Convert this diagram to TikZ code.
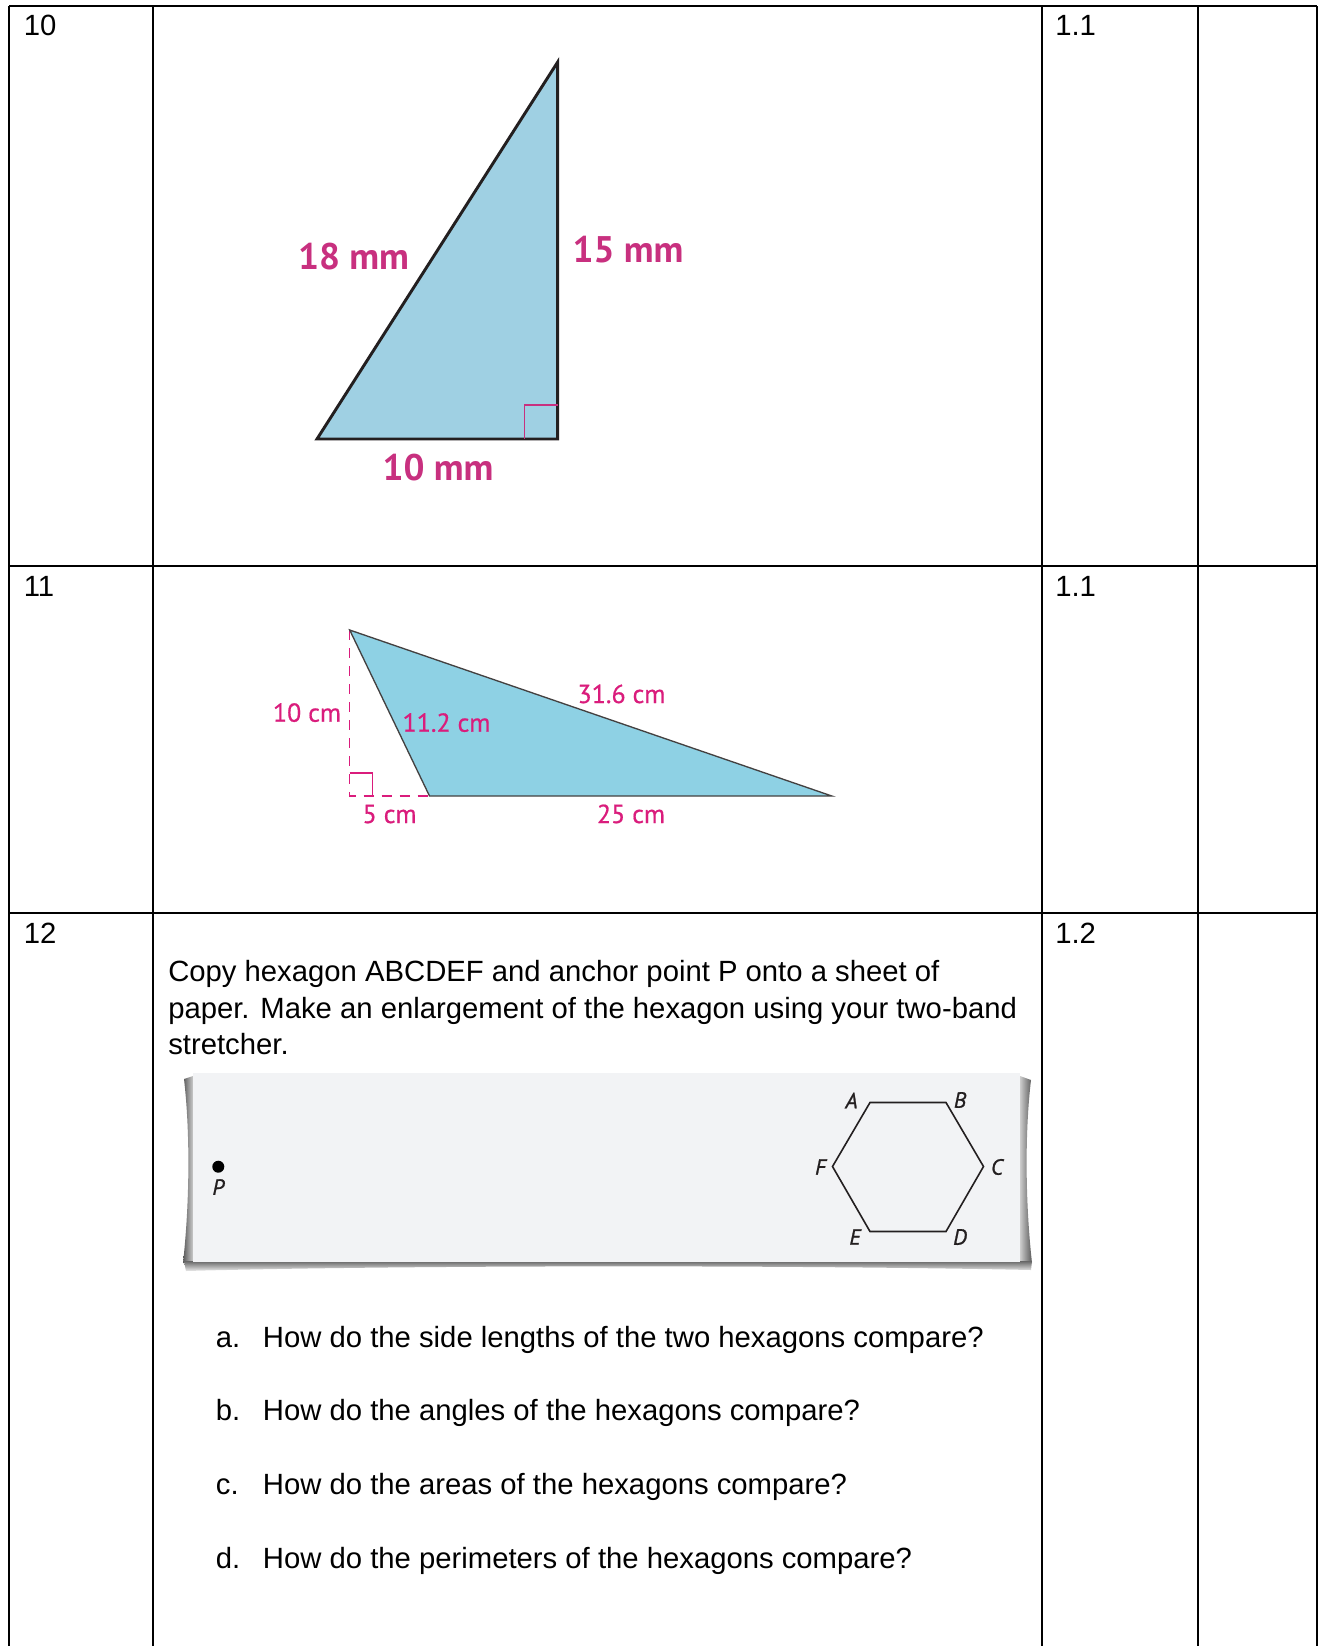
\documentclass[tikz,border=0pt]{standalone}
\usepackage{fontspec}
\setmainfont{Liberation Sans}
\newfontfamily\figfont{PT Sans}
\newfontfamily\figfontm{PT Sans}[FakeBold=0.6]
\newfontfamily\figfonti{PT Sans Italic}[FakeBold=1.0]
\definecolor{trione}{HTML}{9FD0E3}
\definecolor{tritwo}{HTML}{8ED1E4}
\definecolor{magA}{HTML}{C8307F}
\definecolor{magB}{HTML}{DA1C7C}
\definecolor{paper}{HTML}{F2F3F5}
\definecolor{ink}{HTML}{231F20}
\begin{document}
\begin{tikzpicture}[x=0.75pt,y=-0.75pt,
  rule/.style={line width=2.1pt,black},
  body/.style={anchor=base west,inner sep=0pt,font=\fontsize{21.95pt}{26pt}\selectfont},
  biglab/.style={anchor=base,inner sep=0pt,text=magA,font=\figfont\bfseries\fontsize{27.75pt}{30pt}\selectfont},
  smalllab/.style={anchor=base,inner sep=0pt,text=magB,font=\figfontm\fontsize{19.5pt}{22pt}\selectfont},
  vlab/.style={anchor=center,inner sep=0pt,text=ink,font=\figfonti\fontsize{16.5pt}{18pt}\selectfont}]
\useasboundingbox[fill=white] (0,0) rectangle (1319,1646);

% ---------- table rules ----------
\draw[rule] (9,6) -- (1317,6);
\draw[rule] (9,566) -- (1317,566);
\draw[rule] (9,913) -- (1317,913);
\draw[rule] (9,6) -- (9,1646);
\draw[rule] (153,6) -- (153,1646);
\draw[rule] (1042,6) -- (1042,1646);
\draw[rule] (1198,6) -- (1198,1646);
\draw[rule] (1317,6) -- (1317,1646);

% ---------- row numbers and codes ----------
\node[body] (r10) at (23.5,35) {10};
\node[body] (r11) at (23.5,596) {11};
\node[body] (r12) at (23.5,943) {12};
\node[body] (c10) at (1055,35) {1.1};
\node[body] (c11) at (1055,596) {1.1};
\node[body] (c12) at (1055,943) {1.2};

% ---------- triangle 1 ----------
\filldraw[fill=trione,draw=ink,line width=2.2pt,line join=miter]
  (557.7,62) -- (317,439) -- (557.7,439) -- cycle;
\draw[magA,line width=1pt] (524.4,439) -- (524.4,405) -- (557.7,405);
\node[biglab] (l18) at (353.5,269) {18 mm};
\node[biglab] (l15) at (628,262) {15 mm};
\node[biglab] (l10) at (438,480) {10 mm};

% ---------- triangle 2 ----------
\draw[magB,line width=1pt,dash pattern=on 7.5pt off 6pt] (349.7,630) -- (349.7,796) -- (429.5,796);
\draw[magB,line width=1pt] (349.7,773) -- (372.5,773) -- (372.5,796);
\filldraw[fill=tritwo,draw=ink!85,line width=1pt,line join=miter]
  (349.7,630) -- (429.5,796) -- (831.8,796) -- cycle;
\node[smalllab] (t10) at (307,721.7) {10 cm};
\node[smalllab] (t112) at (446.5,731.7) {11.2 cm};
\node[smalllab] (t316) at (621.5,703) {31.6 cm};
\node[smalllab] (t5) at (389.6,823) {5 cm};
\node[smalllab] (t25) at (631,823) {25 cm};

% ---------- row 12 text ----------
\node[body] (p1) at (168,981.5) {Copy hexagon ABCDEF and anchor point P onto a sheet of};
\node[body] (p2) at (168,1018.2) {paper. Make an enlargement of the hexagon using your two-band};
\node[body] (p3) at (168,1054.9) {stretcher.};

% ---------- paper card ----------
\path[left color=black!65,right color=black!20] (193,1076) -- (184,1079) .. controls (190,1130) and (190,1200) .. (183,1263) -- (193,1264) -- cycle;
\path[left color=black!20,right color=black!65] (1020,1076) -- (1031,1080) .. controls (1025,1130) and (1025,1200) .. (1032,1263) -- (1020,1264) -- cycle;
\path[top color=black!60,bottom color=black!8] (184,1261) -- (1032,1261) -- (1031,1270) .. controls (800,1265) and (400,1265) .. (186,1271) -- cycle;
\fill[paper] (193,1073) rectangle (1020,1262);

\node[circle,fill=black,inner sep=0pt,minimum size=9pt] (P) at (218.3,1166.7) {};
\node[vlab] (Plab) at (218.3,1187) {P};

\coordinate (hA) at (870,1102.5);
\coordinate (hB) at (946,1102.5);
\coordinate (hC) at (983.5,1166.5);
\coordinate (hD) at (946,1231.5);
\coordinate (hE) at (870,1231.5);
\coordinate (hF) at (832.5,1166.5);
\draw[ink,line width=1.2pt,line join=miter] (hA) -- (hB) -- (hC) -- (hD) -- (hE) -- (hF) -- cycle;
\node[vlab] (LA) at (851.5,1100.5) {A};
\node[vlab] (LB) at (960,1100) {B};
\node[vlab] (LC) at (997,1167) {C};
\node[vlab] (LD) at (960,1237) {D};
\node[vlab] (LE) at (855,1237) {E};
\node[vlab] (LF) at (820.5,1167) {F};

% ---------- questions ----------
\node[body] (qa) at (215.7,1347) {a.};
\node[body] (qat) at (262.7,1347) {How do the side lengths of the two hexagons compare?};
\node[body] (qb) at (215.7,1420.7) {b.};
\node[body] (qbt) at (262.7,1420.7) {How do the angles of the hexagons compare?};
\node[body] (qc) at (215.7,1494.4) {c.};
\node[body] (qct) at (262.7,1494.4) {How do the areas of the hexagons compare?};
\node[body] (qd) at (215.7,1568.1) {d.};
\node[body] (qdt) at (262.7,1568.1) {How do the perimeters of the hexagons compare?};
\end{tikzpicture}
\end{document}
